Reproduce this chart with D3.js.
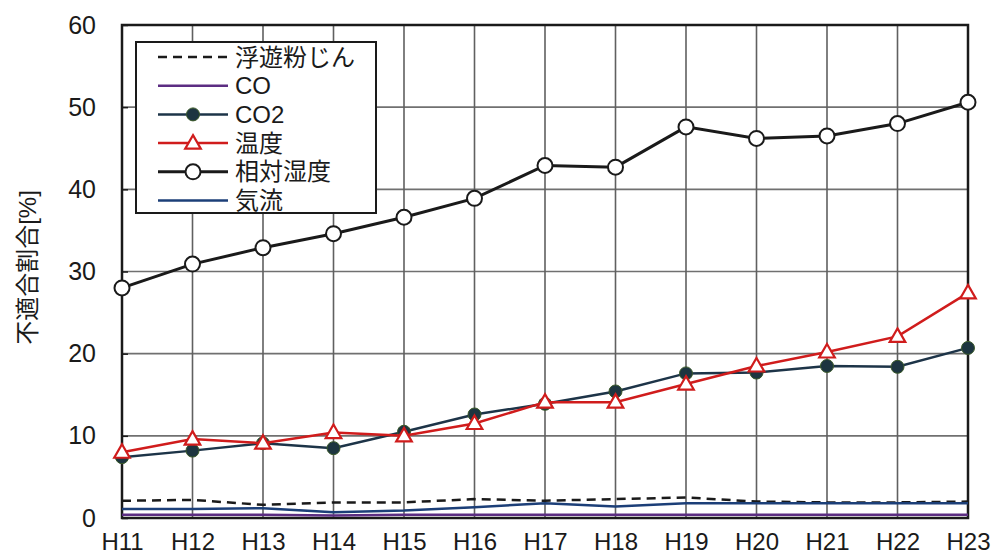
<!DOCTYPE html>
<html>
<head>
<meta charset="utf-8">
<script src="https://cdn.jsdelivr.net/npm/d3@7"></script>
<style>
  body { margin: 0; background: #fff; }
  svg text { font-family: "Liberation Sans", Arial, "Noto Sans CJK JP", sans-serif; fill: #1a1a1a; }
</style>
</head>
<body>
<div id="chart"></div>
<script>
// years (Heisei)
const years = ['H11', 'H12', 'H13', 'H14', 'H15', 'H16', 'H17', 'H18', 'H19', 'H20', 'H21', 'H22', 'H23'];
const yTicks = [0, 10, 20, 30, 40, 50, 60];

// non-conformity rate [%] per item
const dust     = [2.1, 2.2, 1.6, 1.9, 1.9, 2.3, 2.1, 2.3, 2.5, 2.0, 1.9, 1.9, 2.0];
const co       = [0.4, 0.4, 0.4, 0.3, 0.4, 0.4, 0.4, 0.4, 0.4, 0.4, 0.4, 0.4, 0.4];
const co2      = [7.4, 8.2, 9.1, 8.5, 10.5, 12.6, 13.9, 15.4, 17.6, 17.7, 18.5, 18.4, 20.7];
const temp     = [8.0, 9.6, 9.1, 10.4, 10.0, 11.5, 14.1, 14.1, 16.3, 18.5, 20.2, 22.1, 27.4];
const humidity = [28.0, 30.9, 32.9, 34.6, 36.6, 38.9, 42.9, 42.7, 47.6, 46.2, 46.5, 48.0, 50.6];
const airflow  = [1.1, 1.1, 1.2, 0.7, 0.9, 1.3, 1.8, 1.4, 1.8, 1.8, 1.8, 1.8, 1.8];

const series = [
  { name: '浮遊粉じん', values: dust, color: '#1a1a1a', width: 2.5, dash: '9,6', marker: null },
  { name: 'CO', values: co, color: '#5c2d82', width: 2.5, dash: null, marker: null },
  { name: '気流', values: airflow, color: '#1c3f78', width: 2.5, dash: null, marker: null },
  { name: 'CO2', values: co2, color: '#1d3448', width: 2.5, dash: null, marker: 'dot' },
  { name: '温度', values: temp, color: '#d01c1c', width: 2.5, dash: null, marker: 'tri' },
  { name: '相対湿度', values: humidity, color: '#1a1a1a', width: 3, dash: null, marker: 'ring' }
];
const legendOrder = ['浮遊粉じん', 'CO', 'CO2', '温度', '相対湿度', '気流'];

const W = 993, H = 557;
const margin = { top: 25, right: 25, bottom: 39, left: 122 };
const innerW = W - margin.left - margin.right;
const innerH = H - margin.top - margin.bottom;

const svg = d3.select('#chart').append('svg')
  .attr('width', W).attr('height', H);
const g = svg.append('g')
  .attr('transform', 'translate(' + margin.left + ',' + margin.top + ')');

const x = d3.scalePoint().domain(years).range([0, innerW]);
const y = d3.scaleLinear().domain([0, 60]).range([innerH, 0]);

// grid
g.append('g').selectAll('line.hg')
  .data(yTicks.slice(1, -1))
  .enter().append('line')
  .attr('x1', 0).attr('x2', innerW)
  .attr('y1', d => y(d)).attr('y2', d => y(d))
  .attr('stroke', '#707070').attr('stroke-width', 1.6);
g.append('g').selectAll('line.vg')
  .data(years.slice(1, -1))
  .enter().append('line')
  .attr('x1', d => x(d)).attr('x2', d => x(d))
  .attr('y1', 0).attr('y2', innerH)
  .attr('stroke', '#606060').attr('stroke-width', 1.6);

// frame
g.append('rect')
  .attr('width', innerW).attr('height', innerH)
  .attr('fill', 'none').attr('stroke', '#1a1a1a').attr('stroke-width', 2.5);

// axes
const yAxis = d3.axisLeft(y).tickValues(yTicks).tickSize(-6).tickPadding(26);
const yG = g.append('g').call(yAxis);
yG.select('.domain').remove();
yG.selectAll('.tick line').attr('stroke', '#1a1a1a').attr('stroke-width', 1.5);
yG.selectAll('text').attr('font-size', 25).style('fill', '#1a1a1a');

const xAxis = d3.axisBottom(x).tickSize(0).tickPadding(15);
const xG = g.append('g').attr('transform', 'translate(0,' + innerH + ')').call(xAxis);
xG.select('.domain').remove();
xG.selectAll('text').attr('font-size', 24).style('fill', '#1a1a1a');

svg.append('text')
  .attr('transform', 'translate(28,' + (margin.top + innerH / 2 - 4) + ') rotate(-90)')
  .attr('text-anchor', 'middle')
  .attr('dy', '0.35em')
  .attr('font-size', 24)
  .text('不適合割合[%]');

// lines
const line = d3.line()
  .x((d, i) => x(years[i]))
  .y(d => y(d));

const triangle = d3.symbol().type(d3.symbolTriangle).size(105);

function drawMarker(sel, s, cx, cy) {
  if (s.marker === 'dot') {
    sel.append('circle').attr('cx', cx).attr('cy', cy).attr('r', 6.5)
      .attr('fill', '#1d3540').attr('stroke', '#3b5a2a').attr('stroke-width', 1);
  } else if (s.marker === 'ring') {
    sel.append('circle').attr('cx', cx).attr('cy', cy).attr('r', 7.5)
      .attr('fill', '#fff').attr('stroke', '#1a1a1a').attr('stroke-width', 2);
  } else if (s.marker === 'tri') {
    sel.append('path').attr('d', triangle)
      .attr('transform', 'translate(' + cx + ',' + (cy + 1) + ')')
      .attr('fill', '#fff').attr('stroke', s.color).attr('stroke-width', 2.2);
  }
}

series.forEach(s => {
  g.append('path')
    .attr('d', line(s.values))
    .attr('fill', 'none')
    .attr('stroke', s.color)
    .attr('stroke-width', s.width)
    .attr('stroke-dasharray', s.dash);
  const mg = g.append('g');
  s.values.forEach((v, i) => drawMarker(mg, s, x(years[i]), y(v)));
});

// legend
const lg = svg.append('g').attr('transform', 'translate(136,42)');
lg.append('rect')
  .attr('width', 240).attr('height', 171)
  .attr('fill', '#fff').attr('stroke', '#1a1a1a').attr('stroke-width', 2);
legendOrder.forEach((name, i) => {
  const s = series.find(d => d.name === name);
  const ly = 15 + i * 28.7;
  const row = lg.append('g');
  row.append('line')
    .attr('x1', 22).attr('x2', 92).attr('y1', ly).attr('y2', ly)
    .attr('stroke', s.color).attr('stroke-width', s.width)
    .attr('stroke-dasharray', s.dash);
  drawMarker(row, s, 57, ly);
  row.append('text')
    .attr('x', 99).attr('y', ly).attr('dy', '0.36em')
    .attr('font-size', 24)
    .text(name);
});
</script>
</body>
</html>
